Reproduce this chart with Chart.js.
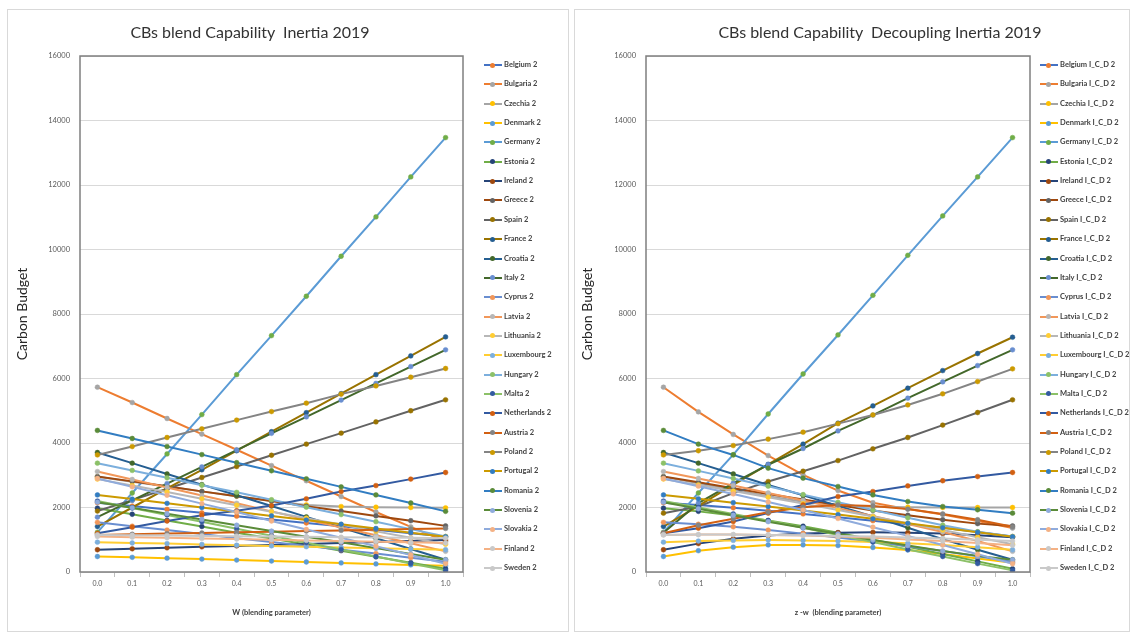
<!DOCTYPE html>
<html>
<head>
<meta charset="utf-8">
<script src="https://cdn.jsdelivr.net/npm/chart.js@4.4.1/dist/chart.umd.min.js"></script>
<style>
  body { margin: 0; background: #fff; width: 1131px; height: 635px; overflow: hidden; position: relative; font-family: Lato, "Liberation Sans", sans-serif; }
  .panel { position: absolute; border: 1px solid #d9d9d9; box-sizing: border-box; }
  canvas { position: absolute; }
  .title { position: absolute; font-size: 16px; color: #333; white-space: pre; transform: translate(-50%, -50%); }
  .legend { position: absolute; }
  .item { position: absolute; left: 0; height: 10px; white-space: nowrap; }
  .item .ln { position: absolute; left: 0; top: 4px; width: 18px; height: 2px; }
  .item .dot { position: absolute; left: 6px; top: 2.5px; width: 5px; height: 5px; border-radius: 50%; }
  .item .tx { position: absolute; left: 20px; top: 0; font-size: 7.5px; font-weight: bold; color: #404040; line-height: 10px; }
</style>
</head>
<body>
<div class="panel" style="left:7px;top:9px;width:562px;height:623px;"></div>
<div class="panel" style="left:574px;top:9px;width:556px;height:623px;"></div>
<canvas id="inertia" width="560" height="621" style="left:8px;top:9px;"></canvas>
<canvas id="decoupling" width="555" height="621" style="left:575px;top:9px;"></canvas>
<div class="title" style="left:250px;top:31px;">CBs blend Capability  Inertia 2019</div>
<div class="title" style="left:880px;top:31px;">CBs blend Capability  Decoupling Inertia 2019</div>
<div class="legend" id="legendLeft" style="left:484px;top:60px;"></div>
<div class="legend" id="legendRight" style="left:1040px;top:60px;"></div>
<script>
// x categories (blending parameter)
const blendSteps = ['0.0', '0.1', '0.2', '0.3', '0.4', '0.5', '0.6', '0.7', '0.8', '0.9', '1.0'];
const countries = ['Belgium', 'Bulgaria', 'Czechia', 'Denmark', 'Germany', 'Estonia', 'Ireland', 'Greece', 'Spain',
  'France', 'Croatia', 'Italy', 'Cyprus', 'Latvia', 'Lithuania', 'Luxembourg', 'Hungary', 'Malta', 'Netherlands',
  'Austria', 'Poland', 'Portugal', 'Romania', 'Slovenia', 'Slovakia', 'Finland', 'Sweden'];
const yTicks = [0, 2000, 4000, 6000, 8000, 10000, 12000, 14000, 16000];

// Inertia 2019
const belgium2     = [2150, 2045, 1940, 1835, 1730, 1625, 1520, 1415, 1310, 1205, 1100];
const bulgaria2    = [5730, 5255, 4760, 4275, 3790, 3300, 2830, 2340, 1860, 1400, 950];
const czechia2     = [2950, 2800, 2650, 2500, 2350, 2200, 2080, 2030, 2010, 2000, 1990];
const denmark2     = [480, 455, 430, 400, 370, 340, 310, 280, 250, 220, 190];
const germany2     = [1230, 2450, 3660, 4880, 6120, 7330, 8550, 9790, 11010, 12250, 13470];
const estonia2     = [1980, 1790, 1600, 1410, 1220, 1040, 850, 660, 470, 290, 100];
const ireland2     = [690, 720, 750, 780, 810, 840, 870, 900, 930, 960, 990];
const greece2      = [2960, 2810, 2660, 2500, 2350, 2200, 2040, 1890, 1740, 1590, 1430];
const spain2       = [1890, 2230, 2580, 2930, 3270, 3620, 3965, 4305, 4655, 5000, 5340];
const france2      = [1410, 2000, 2590, 3170, 3760, 4350, 4940, 5530, 6120, 6700, 7290];
const croatia2     = [3705, 3375, 3040, 2710, 2380, 2045, 1710, 1380, 1045, 715, 380];
const italy2       = [1700, 2220, 2740, 3260, 3780, 4300, 4810, 5330, 5850, 6370, 6890];
const cyprus2      = [1540, 1420, 1300, 1175, 1050, 930, 810, 690, 570, 445, 320];
const latvia2      = [3115, 2870, 2620, 2370, 2130, 1880, 1630, 1380, 1140, 890, 640];
const lithuania2   = [2880, 2680, 2480, 2270, 2070, 1870, 1670, 1470, 1260, 1060, 860];
const luxembourg2  = [925, 900, 880, 855, 830, 810, 785, 760, 740, 715, 690];
const hungary2     = [3375, 3150, 2920, 2690, 2470, 2240, 2010, 1780, 1560, 1330, 1100];
const malta2       = [2200, 1985, 1770, 1555, 1340, 1125, 910, 695, 480, 265, 50];
const netherlands2 = [1200, 1390, 1580, 1760, 1900, 2060, 2270, 2495, 2680, 2880, 3085];
const austria2     = [1150, 1170, 1190, 1210, 1230, 1250, 1270, 1290, 1310, 1330, 1350];
const poland2      = [3630, 3890, 4170, 4440, 4710, 4975, 5235, 5515, 5770, 6040, 6310];
const portugal2    = [2390, 2260, 2130, 2000, 1870, 1740, 1610, 1480, 1350, 1220, 1090];
const romania2     = [4390, 4140, 3890, 3640, 3390, 3140, 2890, 2640, 2390, 2140, 1880];
const slovenia2    = [2165, 1990, 1810, 1630, 1450, 1270, 1090, 920, 740, 560, 380];
const slovakia2    = [2900, 2640, 2380, 2120, 1860, 1580, 1320, 1060, 800, 530, 255];
const finland2     = [1100, 1080, 1060, 1040, 1020, 1000, 980, 960, 940, 920, 900];
const sweden2      = [1150, 1140, 1130, 1120, 1110, 1100, 1090, 1080, 1070, 1060, 1050];

// Decoupling Inertia 2019
const belgiumICD2     = [2150, 2080, 1990, 1900, 1800, 1700, 1590, 1480, 1370, 1240, 1100];
const bulgariaICD2    = [5730, 4965, 4265, 3610, 3010, 2525, 2150, 1950, 1780, 1580, 1360];
const czechiaICD2     = [2950, 2750, 2550, 2350, 2180, 2060, 2020, 2010, 2000, 2000, 2000];
const denmarkICD2     = [480, 660, 770, 840, 840, 820, 760, 680, 560, 420, 290];
const germanyICD2     = [1230, 2450, 3640, 4900, 6140, 7350, 8580, 9820, 11040, 12250, 13470];
const estoniaICD2     = [1980, 1880, 1750, 1600, 1420, 1220, 1000, 780, 560, 330, 100];
const irelandICD2     = [690, 880, 1030, 1130, 1190, 1220, 1230, 1220, 1190, 1140, 1080];
const greeceICD2      = [2960, 2780, 2600, 2420, 2250, 2080, 1910, 1760, 1620, 1500, 1430];
const spainICD2       = [1825, 2030, 2445, 2805, 3125, 3455, 3820, 4170, 4555, 4945, 5340];
const franceICD2      = [1410, 2050, 2700, 3340, 3965, 4615, 5150, 5700, 6245, 6775, 7280];
const croatiaICD2     = [3705, 3375, 3040, 2700, 2380, 2050, 1720, 1370, 1020, 690, 380];
const italyICD2       = [1215, 2135, 2755, 3325, 3830, 4375, 4865, 5390, 5895, 6400, 6890];
const cyprusICD2      = [1540, 1480, 1400, 1300, 1190, 1070, 940, 800, 650, 490, 320];
const latviaICD2      = [3115, 2900, 2680, 2450, 2220, 1980, 1740, 1490, 1240, 960, 640];
const lithuaniaICD2   = [2880, 2700, 2510, 2320, 2120, 1920, 1720, 1510, 1300, 1080, 860];
const luxembourgICD2  = [925, 960, 980, 990, 980, 960, 930, 890, 840, 770, 690];
const hungaryICD2     = [3375, 3135, 2900, 2660, 2400, 2160, 1920, 1680, 1450, 1250, 1100];
const maltaICD2       = [2200, 2000, 1800, 1590, 1370, 1150, 930, 700, 480, 260, 50];
const netherlandsICD2 = [1200, 1360, 1565, 1825, 2080, 2340, 2495, 2670, 2830, 2960, 3085];
const austriaICD2     = [1200, 1450, 1650, 1850, 2010, 2080, 2050, 1950, 1800, 1620, 1400];
const polandICD2      = [3630, 3760, 3920, 4120, 4335, 4600, 4870, 5180, 5525, 5905, 6300];
const portugalICD2    = [2390, 2270, 2150, 2030, 1910, 1780, 1650, 1510, 1370, 1230, 1090];
const romaniaICD2     = [4390, 3965, 3630, 3220, 2910, 2650, 2390, 2185, 2030, 1930, 1825];
const sloveniaICD2    = [2165, 1960, 1760, 1560, 1370, 1180, 990, 820, 650, 500, 380];
const slovakiaICD2    = [2900, 2660, 2420, 2170, 1920, 1660, 1390, 1120, 840, 550, 255];
const finlandICD2     = [1150, 1160, 1160, 1150, 1130, 1100, 1060, 1010, 960, 900, 830];
const swedenICD2      = [1150, 1160, 1160, 1150, 1140, 1120, 1100, 1070, 1040, 1000, 960];

const inertiaSeries = [belgium2, bulgaria2, czechia2, denmark2, germany2, estonia2, ireland2, greece2, spain2,
  france2, croatia2, italy2, cyprus2, latvia2, lithuania2, luxembourg2, hungary2, malta2, netherlands2,
  austria2, poland2, portugal2, romania2, slovenia2, slovakia2, finland2, sweden2];
const decouplingSeries = [belgiumICD2, bulgariaICD2, czechiaICD2, denmarkICD2, germanyICD2, estoniaICD2,
  irelandICD2, greeceICD2, spainICD2, franceICD2, croatiaICD2, italyICD2, cyprusICD2, latviaICD2,
  lithuaniaICD2, luxembourgICD2, hungaryICD2, maltaICD2, netherlandsICD2, austriaICD2, polandICD2,
  portugalICD2, romaniaICD2, sloveniaICD2, slovakiaICD2, finlandICD2, swedenICD2];

// office palette, markers take the next series colour
const lineColors = ['#4472C4', '#ED7D31', '#A5A5A5', '#FFC000', '#5B9BD5', '#70AD47',
  '#264478', '#9E480E', '#636363', '#997300', '#255E91', '#43682B',
  '#698ED0', '#F1975A', '#B7B7B7', '#FFCD33', '#7CAFDD', '#8CC168',
  '#335AA1', '#D26012', '#848484', '#CC9A00', '#327DC2', '#5A8B39',
  '#8FABDC', '#F4B184', '#C9C9C9'];
const markerColors = lineColors.slice(1).concat(['#C9C9C9']);

const plotFrame = {
  id: 'plotFrame',
  afterDatasetsDraw(chart) {
    const { ctx, chartArea: a } = chart;
    ctx.save();
    ctx.strokeStyle = '#7f7f7f';
    ctx.lineWidth = 1.5;
    ctx.strokeRect(a.left, a.top, a.right - a.left, a.bottom - a.top);
    ctx.restore();
  }
};

function makeChart(id, series, suffix, xTitle, rightPad, yWidth, yTitlePad) {
  const datasets = series.map((vals, i) => ({
    label: countries[i] + suffix,
    data: vals,
    borderColor: lineColors[i],
    backgroundColor: markerColors[i],
    pointBackgroundColor: markerColors[i],
    pointBorderColor: markerColors[i],
    borderWidth: 2,
    pointRadius: 2.4,
    pointBorderWidth: 0.5,
    tension: 0,
    order: series.length - i
  }));
  return new Chart(document.getElementById(id), {
    type: 'line',
    data: { labels: blendSteps, datasets: datasets },
    options: {
      responsive: false,
      animation: false,
      devicePixelRatio: 1,
      layout: { autoPadding: false, padding: { left: 0, right: rightPad, top: 47, bottom: 0 } },
      plugins: { legend: { display: false }, tooltip: { enabled: false } },
      scales: {
        x: {
          type: 'category',
          offset: true,
          grid: { offset: true, drawOnChartArea: false, drawTicks: true, tickLength: 5, color: '#bfbfbf' },
          border: { display: false },
          ticks: { font: { family: 'Lato', size: 7 }, color: '#595959', padding: 3, maxRotation: 0 },
          title: { display: true, text: xTitle, font: { family: 'Lato', size: 7.5, weight: 'bold' }, color: '#404040', padding: { top: 0, bottom: 13 } },
          afterFit: (s) => { s.height = 58; }
        },
        y: {
          min: 0,
          max: 16000,
          afterBuildTicks: (s) => { s.ticks = yTicks.map(v => ({ value: v })); },
          grid: { color: '#d9d9d9', drawTicks: false },
          border: { display: false },
          ticks: { font: { family: 'Lato', size: 7.5 }, color: '#595959', padding: 10, callback: (v) => String(v) },
          title: { display: true, text: 'Carbon Budget', font: { family: 'Lato', size: 14 }, color: '#262626', padding: { top: yTitlePad, bottom: 0 } },
          afterFit: (s) => { s.width = yWidth; }
        }
      }
    },
    plugins: [plotFrame]
  });
}

function makeLegend(id, suffix) {
  const box = document.getElementById(id);
  countries.forEach((c, i) => {
    const item = document.createElement('div');
    item.className = 'item';
    item.style.top = (i * 19.35) + 'px';
    item.innerHTML = '<div class="ln" style="background:' + lineColors[i] + '"></div>' +
      '<div class="dot" style="background:' + markerColors[i] + '"></div>' +
      '<div class="tx">' + c + suffix + '</div>';
    box.appendChild(item);
  });
}

makeChart('inertia', inertiaSeries, ' 2', 'W (blending parameter)', 105, 72, 6);
makeChart('decoupling', decouplingSeries, ' I_C_D 2', 'z -w  (blending parameter)', 100, 71, 4);
makeLegend('legendLeft', ' 2');
makeLegend('legendRight', ' I_C_D 2');
</script>
</body>
</html>
